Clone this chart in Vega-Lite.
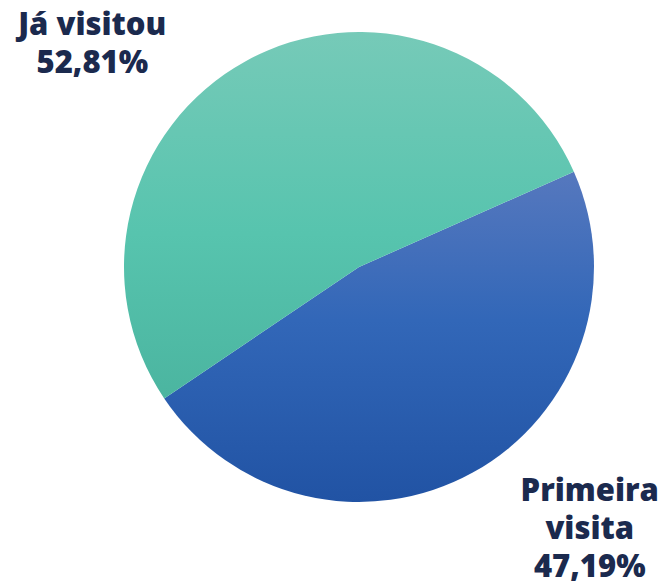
{
  "$schema": "https://vega.github.io/schema/vega-lite/v6.json",
  "width": 560,
  "height": 520,
  "autosize": "none",
  "padding": {"left": 79, "top": 7, "right": 27, "bottom": 57},
  "background": "white",
  "data": {
    "values": [
      {"grupo": "Primeira visita", "rotulo": "Primeira|visita", "pct": 47.19, "ordem": 1},
      {"grupo": "Já visitou", "rotulo": "Já visitou", "pct": 52.81, "ordem": 2}
    ]
  },
  "transform": [
    {"calculate": "datum.rotulo + '|' + replace(format(datum.pct, '.2f'), '.', ',') + '%'", "as": "label"}
  ],
  "layer": [
    {
      "mark": {"type": "arc", "radius": 235},
      "encoding": {
        "theta": {"field": "pct", "type": "quantitative", "stack": true, "scale": {"range": [1.1537, 7.4369]}},
        "order": {"field": "ordem", "type": "quantitative"},
        "color": {
          "condition": {
            "test": "datum.grupo == 'Já visitou'",
            "value": {
              "gradient": "linear", "x1": 0, "y1": 0, "x2": 0, "y2": 1,
              "stops": [
                {"offset": 0, "color": "#76cab8"},
                {"offset": 0.55, "color": "#57c4ae"},
                {"offset": 1, "color": "#4bb5a0"}
              ]
            }
          },
          "value": {
            "gradient": "linear", "x1": 0, "y1": 0, "x2": 0, "y2": 1,
            "stops": [
              {"offset": 0, "color": "#5678be"},
              {"offset": 0.45, "color": "#3267b8"},
              {"offset": 1, "color": "#2153a4"}
            ]
          }
        }
      }
    },
    {
      "mark": {
        "type": "text", "radius": 342, "lineBreak": "|", "dy": -27,
        "font": "Open Sans", "fontSize": 31, "fontWeight": 800,
        "fill": "#1b2a4e", "align": "center", "baseline": "middle", "lineHeight": 38
      },
      "encoding": {
        "theta": {"field": "pct", "type": "quantitative", "stack": true, "scale": {"domain": [0, 100], "range": [0.9912, 6.9665]}},
        "order": {"field": "ordem", "type": "quantitative"},
        "text": {"field": "label", "type": "nominal"}
      }
    }
  ],
  "resolve": {"scale": {"theta": "independent"}},
  "config": {"view": {"stroke": null}}
}
